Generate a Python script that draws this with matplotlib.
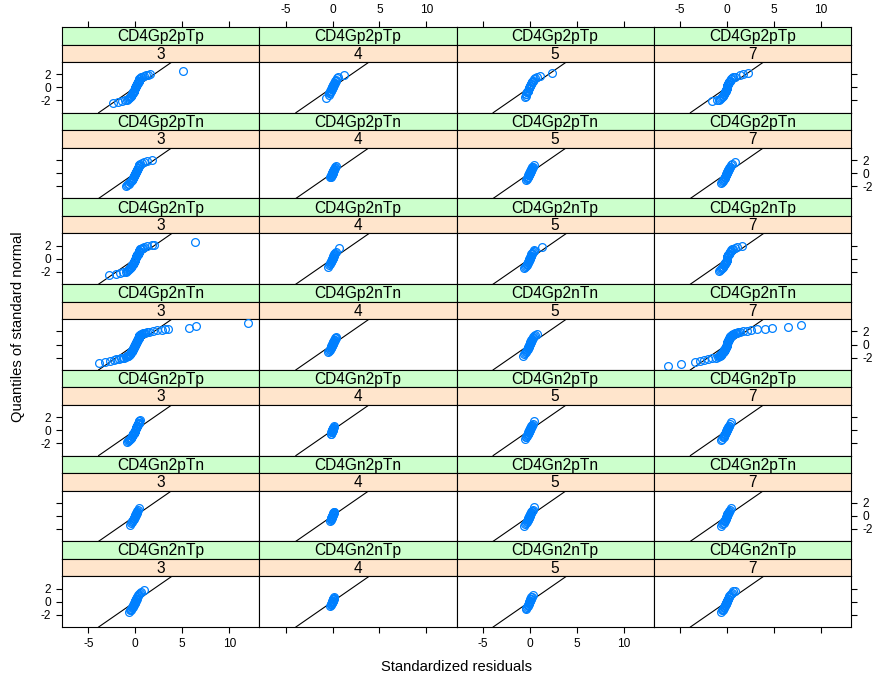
import numpy as np
import matplotlib
matplotlib.use("Agg")
import matplotlib.pyplot as plt
from statistics import NormalDist

plt.rcParams['font.family'] = ['Liberation Sans', 'DejaVu Sans']
plt.rcParams['axes.unicode_minus'] = False

# ---- conditioning levels and axis ticks ----
groups = ["CD4Gp2pTp", "CD4Gp2pTn", "CD4Gp2nTp", "CD4Gp2nTn",
          "CD4Gn2pTp", "CD4Gn2pTn", "CD4Gn2nTp"]
times = ["3", "4", "5", "7"]
x_ticks = [-5, 0, 5, 10]
y_ticks = [-2, 0, 2]

# ---- standardized residuals ----
# Larger cells: frequency counts on a common residual grid plus the
# individual tail residuals.  Smaller cells: the residuals themselves.
resid_grid = [-0.85, -0.75, -0.65, -0.55, -0.45, -0.35, -0.25, -0.15, -0.05, 0.05,
              0.15, 0.25, 0.35, 0.45, 0.55, 0.65, 0.75, 0.85, 0.95, 1.05]

gp2ptp_t3_counts = [1, 1, 1, 2, 3, 3, 5, 5, 5, 5, 5, 5, 4, 2, 1, 1, 1, 0, 1, 0]
gp2ptp_t3_tail = [-2.4, -1.85, -1.4, -1.05, 1.15, 1.4, 1.6, 5.1]
gp2ptp_t4 = [-0.7, -0.42, -0.33, -0.27, -0.22, -0.18, -0.15, -0.12, -0.09, -0.07, -0.05, -0.03,
             -0.01, 0.01, 0.03, 0.05, 0.07, 0.09, 0.12, 0.15, 0.18, 0.22, 0.27, 0.33, 0.4, 0.5,
             0.6, 1.2]
gp2ptp_t5_counts = [0, 0, 0, 1, 1, 2, 3, 3, 3, 3, 3, 3, 2, 1, 1, 0, 1, 0, 0, 1]
gp2ptp_t5_tail = [2.4]
gp2ptp_t7_counts = [1, 1, 1, 1, 2, 3, 4, 4, 4, 4, 4, 3, 3, 2, 1, 1, 0, 1, 0, 0]
gp2ptp_t7_tail = [-1.6, -1.1, 1.35, 1.7, 2.25]

gp2ptn_t3_counts = [1, 1, 1, 2, 2, 3, 4, 4, 4, 4, 4, 3, 3, 2, 1, 0, 1, 0, 1, 0]
gp2ptn_t3_tail = [-0.95, 1.3, 1.8]
gp2ptn_t4 = [-0.22, -0.18, -0.15, -0.12, -0.1, -0.08, -0.06, -0.04, -0.02, -0.01, 0.0, 0.01,
             0.03, 0.04, 0.06, 0.08, 0.1, 0.12, 0.14, 0.17, 0.2, 0.24, 0.29, 0.35]
gp2ptn_t5 = [-0.38, -0.32, -0.27, -0.23, -0.2, -0.17, -0.14, -0.12, -0.1, -0.08, -0.06, -0.04,
             -0.02, -0.01, 0.01, 0.02, 0.04, 0.06, 0.08, 0.1, 0.12, 0.14, 0.17, 0.2, 0.24, 0.28,
             0.33, 0.4]
gp2ptn_t7 = [-0.62, -0.52, -0.45, -0.39, -0.34, -0.3, -0.26, -0.23, -0.2, -0.17, -0.14, -0.12,
             -0.1, -0.08, -0.06, -0.04, -0.02, 0.0, 0.02, 0.04, 0.06, 0.08, 0.1, 0.13, 0.16,
             0.19, 0.23, 0.28, 0.34, 0.42, 0.55, 0.8]

gp2ntp_t3_counts = [1, 1, 2, 2, 3, 4, 5, 6, 6, 6, 6, 6, 5, 3, 2, 1, 1, 1, 1, 0]
gp2ntp_t3_tail = [-2.8, -2.1, -1.6, -1.3, -1.0, 1.3, 1.8, 2.0, 6.4]
gp2ntp_t4 = [-0.45, -0.35, -0.28, -0.23, -0.19, -0.15, -0.12, -0.09, -0.06, -0.04, -0.02, 0.0,
             0.02, 0.04, 0.07, 0.1, 0.13, 0.17, 0.21, 0.27, 0.35, 0.72]
gp2ntp_t5 = [-0.6, -0.48, -0.4, -0.34, -0.29, -0.25, -0.21, -0.18, -0.15, -0.12, -0.09, -0.07,
             -0.05, -0.03, -0.01, 0.01, 0.03, 0.05, 0.08, 0.11, 0.14, 0.18, 0.22, 0.27, 0.33,
             0.4, 0.5, 1.25]
gp2ntp_t7_counts = [1, 1, 1, 2, 2, 3, 4, 4, 4, 4, 4, 3, 3, 2, 1, 1, 0, 1, 0, 1]
gp2ntp_t7_tail = [1.6]

gp2ntn_t3_counts = [2, 2, 4, 4, 7, 9, 10, 10, 10, 10, 10, 10, 10, 6, 4, 1, 1, 1, 1, 1]
gp2ntn_t3_tail = [-3.9, -3.2, -2.7, -2.3, -2.0, -1.7, -1.5, -1.3, -1.15, -1.0,
                  1.2, 1.5, 1.9, 2.3, 2.8, 3.2, 3.5, 5.7, 6.5, 12.0]
gp2ntn_t4 = [-0.45, -0.36, -0.3, -0.25, -0.21, -0.17, -0.14, -0.11, -0.08, -0.06, -0.04, -0.02,
             0.0, 0.02, 0.04, 0.06, 0.09, 0.12, 0.15, 0.19, 0.23, 0.28, 0.34, 0.42]
gp2ntn_t5 = [-0.75, -0.58, -0.48, -0.41, -0.36, -0.31, -0.27, -0.23, -0.2, -0.17, -0.14, -0.12,
             -0.1, -0.08, -0.06, -0.04, -0.02, 0.0, 0.02, 0.04, 0.06, 0.08, 0.11, 0.14, 0.17,
             0.21, 0.25, 0.3, 0.36, 0.45, 0.56, 0.8]
gp2ntn_t7_counts = [2, 2, 4, 4, 7, 9, 10, 10, 10, 10, 10, 10, 10, 6, 4, 1, 1, 1, 1, 1]
gp2ntn_t7_tail = [-6.3, -4.9, -3.4, -2.9, -2.5, -2.05, -1.6, -1.2, -0.95,
                  1.2, 1.4, 1.7, 2.1, 2.6, 3.2, 4.0, 4.8, 6.45, 7.9]

gn2ptp_t3_counts = [1, 1, 2, 2, 3, 4, 5, 6, 6, 6, 6, 5, 3, 2, 1, 0, 0, 0, 0, 0]
gn2ptp_t3_tail = []
gn2ptp_t4 = [-0.2, -0.16, -0.13, -0.1, -0.08, -0.06, -0.04, -0.03, -0.01, 0.0, 0.01, 0.03,
             0.04, 0.06, 0.08, 0.1, 0.12, 0.15]
gn2ptp_t5 = [-0.52, -0.43, -0.36, -0.31, -0.27, -0.23, -0.2, -0.17, -0.14, -0.12, -0.1, -0.08,
             -0.06, -0.04, -0.02, 0.0, 0.02, 0.04, 0.06, 0.09, 0.12, 0.15, 0.19, 0.24, 0.31,
             0.45]
gn2ptp_t7 = [-0.62, -0.5, -0.42, -0.36, -0.31, -0.27, -0.23, -0.2, -0.17, -0.14, -0.12, -0.1,
             -0.08, -0.06, -0.04, -0.02, 0.0, 0.02, 0.04, 0.07, 0.1, 0.13, 0.17, 0.22, 0.3, 0.4]

gn2ptn_t3 = [-0.52, -0.42, -0.35, -0.3, -0.25, -0.21, -0.18, -0.15, -0.12, -0.1, -0.07, -0.05,
             -0.03, -0.01, 0.01, 0.03, 0.05, 0.08, 0.11, 0.14, 0.18, 0.23, 0.3, 0.4]
gn2ptn_t4 = [-0.27, -0.21, -0.17, -0.14, -0.11, -0.09, -0.07, -0.05, -0.03, -0.01, 0.01, 0.03,
             0.05, 0.07, 0.09, 0.12, 0.15, 0.18]
gn2ptn_t5 = [-0.57, -0.46, -0.39, -0.33, -0.28, -0.24, -0.21, -0.18, -0.15, -0.12, -0.1, -0.08,
             -0.06, -0.04, -0.02, 0.0, 0.02, 0.04, 0.06, 0.09, 0.12, 0.15, 0.19, 0.24, 0.32,
             0.45]
gn2ptn_t7 = [-0.62, -0.5, -0.42, -0.36, -0.31, -0.26, -0.22, -0.19, -0.16, -0.13, -0.11, -0.09,
             -0.07, -0.05, -0.03, -0.01, 0.01, 0.03, 0.05, 0.08, 0.11, 0.14, 0.18, 0.23, 0.3,
             0.4]

gn2ntp_t3 = [-0.68, -0.55, -0.47, -0.41, -0.36, -0.32, -0.28, -0.24, -0.21, -0.18, -0.15, -0.12,
             -0.1, -0.08, -0.06, -0.04, -0.02, 0.0, 0.02, 0.04, 0.06, 0.08, 0.11, 0.14, 0.17,
             0.21, 0.25, 0.3, 0.37, 0.46, 0.6, 0.95]
gn2ntp_t4 = [-0.23, -0.18, -0.14, -0.11, -0.09, -0.07, -0.05, -0.03, -0.01, 0.0, 0.02, 0.04,
             0.06, 0.08, 0.1, 0.12, 0.15, 0.18]
gn2ntp_t5 = [-0.45, -0.36, -0.29, -0.24, -0.2, -0.16, -0.13, -0.1, -0.07, -0.05, -0.03, -0.01,
             0.01, 0.03, 0.06, 0.09, 0.13, 0.18, 0.24, 0.33]
gn2ntp_t7 = [-0.68, -0.55, -0.47, -0.41, -0.36, -0.31, -0.27, -0.23, -0.2, -0.17, -0.14, -0.12,
             -0.1, -0.08, -0.06, -0.04, -0.02, 0.0, 0.02, 0.04, 0.06, 0.08, 0.11, 0.14, 0.17,
             0.21, 0.26, 0.32, 0.4, 0.5, 0.65, 0.85]


def tabulated(counts, tail):
    return np.concatenate([np.repeat(resid_grid, counts), np.asarray(tail, dtype=float)])


panel_resid = [
    [tabulated(gp2ptp_t3_counts, gp2ptp_t3_tail), gp2ptp_t4,
     tabulated(gp2ptp_t5_counts, gp2ptp_t5_tail), tabulated(gp2ptp_t7_counts, gp2ptp_t7_tail)],
    [tabulated(gp2ptn_t3_counts, gp2ptn_t3_tail), gp2ptn_t4, gp2ptn_t5, gp2ptn_t7],
    [tabulated(gp2ntp_t3_counts, gp2ntp_t3_tail), gp2ntp_t4, gp2ntp_t5,
     tabulated(gp2ntp_t7_counts, gp2ntp_t7_tail)],
    [tabulated(gp2ntn_t3_counts, gp2ntn_t3_tail), gp2ntn_t4, gp2ntn_t5,
     tabulated(gp2ntn_t7_counts, gp2ntn_t7_tail)],
    [tabulated(gn2ptp_t3_counts, gn2ptp_t3_tail), gn2ptp_t4, gn2ptp_t5, gn2ptp_t7],
    [gn2ptn_t3, gn2ptn_t4, gn2ptn_t5, gn2ptn_t7],
    [gn2ntp_t3, gn2ntp_t4, gn2ntp_t5, gn2ntp_t7],
]

# ---- normal quantiles from the pooled ranks (as in qqnorm for lme fits) ----
flat = [np.asarray(v, dtype=float) for row in panel_resid for v in row]
pooled = np.concatenate(flat)
N = len(pooled)
a = 3 / 8 if N <= 10 else 0.5
pp = (np.arange(1, N + 1) - a) / (N + 1 - 2 * a)
qn = np.array([NormalDist().inv_cdf(v) for v in pp])
rank = np.empty(N, dtype=int)
rank[np.argsort(pooled, kind="stable")] = np.arange(N)
pooled_q = qn[rank]
splits = np.cumsum([len(v) for v in flat])[:-1]
panel_q = np.split(pooled_q, splits)

# ---- layout (pixels) ----
W, H, DPI = 873, 681, 100
L, R, T, B = 62, 851, 27, 627
NCOL, NROW = 4, 7
CW = (R - L) / NCOL
RH = (B - T) / NROW
SH = 17.5
XLIM = (-7.8, 13.2)
YLIM = (-3.9, 3.9)

GREEN = "#ccffcc"
ORANGE = "#ffe5cc"
BLUE = "#0080ff"
LW = 0.8
TICK_LEN = 4.5
TICK_PAD = 3.5
TICK_FS = 8.6
STRIP_FS = 11.2
LABEL_FS = 10.6

fig = plt.figure(figsize=(W / DPI, H / DPI), dpi=DPI)


def rect(x0, y0, w, h):
    return [x0 / W, 1 - (y0 + h) / H, w / W, h / H]


def style_frame(ax):
    for s in ax.spines.values():
        s.set_linewidth(LW)
        s.set_color("black")


for r, group in enumerate(groups):
    for c, tlab in enumerate(times):
        x0 = L + c * CW
        y0 = T + r * RH

        # strips: group on top (green), time below (orange)
        for k, (lab, col) in enumerate([(group, GREEN), (tlab, ORANGE)]):
            sax = fig.add_axes(rect(x0, y0 + k * SH, CW, SH))
            sax.set_facecolor(col)
            sax.set_xlim(XLIM)
            sax.set_yticks([])
            style_frame(sax)
            sax.text(0.5, 0.45, lab, transform=sax.transAxes, ha="center", va="center",
                     fontsize=STRIP_FS, color="black")
            if r == 0 and k == 0:
                sax.xaxis.set_ticks_position("top")
                sax.set_xticks(x_ticks)
                sax.tick_params(axis="x", direction="out", length=TICK_LEN, width=LW,
                                pad=TICK_PAD, labelsize=TICK_FS,
                                labeltop=(c % 2 == 1), labelbottom=False,
                                top=True, bottom=False)
            else:
                sax.set_xticks([])

        # panel
        ph = RH - 2 * SH
        ax = fig.add_axes(rect(x0, y0 + 2 * SH, CW, ph))
        ax.set_xlim(XLIM)
        ax.set_ylim(YLIM)
        style_frame(ax)
        ax.axline((0, 0), slope=1, color="black", lw=0.8, zorder=2)
        idx = r * NCOL + c
        ax.plot(flat[idx], panel_q[idx], linestyle="none", marker="o", markersize=5.6,
                markerfacecolor="none", markeredgecolor=BLUE, markeredgewidth=0.9,
                zorder=3)

        # x ticks only on the bottom row
        if r == NROW - 1:
            ax.set_xticks(x_ticks)
            ax.tick_params(axis="x", direction="out", length=TICK_LEN, width=LW,
                           pad=TICK_PAD, labelsize=TICK_FS,
                           labelbottom=(c % 2 == 0), bottom=True, top=False)
        else:
            ax.set_xticks([])

        # y ticks on outer columns, labels alternate left / right
        if c == 0 or c == NCOL - 1:
            ax.set_yticks(y_ticks)
            if c == 0:
                ax.tick_params(axis="y", direction="out", length=TICK_LEN, width=LW,
                               pad=TICK_PAD, labelsize=TICK_FS, left=True, right=False,
                               labelleft=(r % 2 == 0), labelright=False)
            else:
                ax.tick_params(axis="y", direction="out", length=TICK_LEN, width=LW,
                               pad=TICK_PAD, labelsize=TICK_FS, left=False, right=True,
                               labelleft=False, labelright=(r % 2 == 1))
        else:
            ax.set_yticks([])

fig.text((L + R) / 2 / W, 1 - 667 / H, "Standardized residuals", ha="center", va="center",
         fontsize=LABEL_FS)
fig.text(18 / W, 1 - ((T + B) / 2) / H, "Quantiles of standard normal", ha="center",
         va="center", rotation=90, fontsize=LABEL_FS)

fig.savefig("out.png", dpi=DPI)
